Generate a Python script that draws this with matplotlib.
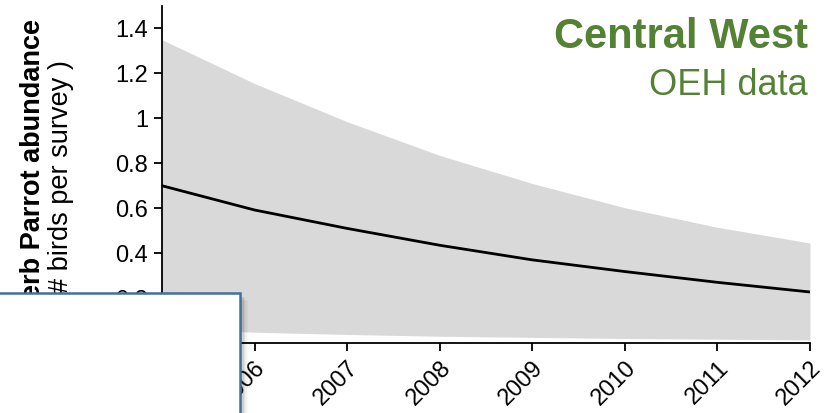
import matplotlib
matplotlib.use("Agg")
import matplotlib.pyplot as plt
from matplotlib.patches import Rectangle
import matplotlib.transforms as mtransforms

plt.rcParams['font.family'] = ['Liberation Sans', 'DejaVu Sans']

# values
years = [2005, 2006, 2007, 2008, 2009, 2010, 2011, 2012]
mean_abund = [0.70, 0.592, 0.510, 0.435, 0.370, 0.318, 0.270, 0.227]
upper_ci = [1.35, 1.155, 0.985, 0.835, 0.710, 0.602, 0.515, 0.445]
lower_ci = [0.065, 0.048, 0.038, 0.030, 0.025, 0.020, 0.017, 0.014]
yticks = [0, 0.2, 0.4, 0.6, 0.8, 1.0, 1.2, 1.4]

green = '#548235'

fig = plt.figure(figsize=(8.31, 4.13), dpi=100)
ax = fig.add_axes([0.1949, 0.1695, 0.7798, 0.816])

ax.fill_between(years, lower_ci, upper_ci, color='#d9d9d9', linewidth=0)
ax.plot(years, mean_abund, color='black', linewidth=2)

ax.set_xlim(2005, 2012)
ax.set_ylim(0, 1.5)
ax.set_yticks(yticks)
ax.set_yticklabels(['%g' % v for v in yticks], fontsize=17)
ax.set_xticks(years)
ax.set_xticklabels([str(y) for y in years], fontsize=17, rotation=45,
                   ha='right', va='top', rotation_mode='anchor')
offset = mtransforms.ScaledTranslation(14 / 100, 0, fig.dpi_scale_trans)
for lab in ax.get_xticklabels():
    lab.set_transform(lab.get_transform() + offset)

for s in ['top', 'right']:
    ax.spines[s].set_visible(False)
for s in ['left', 'bottom']:
    ax.spines[s].set_linewidth(1.3)
ax.tick_params(direction='out', length=6, width=1.3, pad=4)

# titles
fig.text(808 / 831, 1 - 48 / 413, 'Central West', color=green,
         fontsize=30, fontweight='bold', ha='right', va='baseline')
fig.text(808 / 831, 1 - 95 / 413, 'OEH data', color=green,
         fontsize=26, ha='right', va='baseline')

# y label (two lines, first bold)
fig.text(33 / 831, 1 - 184 / 413, 'Superb Parrot abundance', rotation=90,
         fontsize=19.5, fontweight='bold', ha='center', va='center')
fig.text(61 / 831, 1 - 181 / 413, '(# birds per survey )', rotation=90,
         fontsize=19.5, ha='center', va='center')

# overlapping white box with shadow
W, H = 831, 413
for i, a in enumerate([0.10, 0.08, 0.06, 0.04, 0.02]):
    d = 2 + i * 1.5
    fig.patches.append(Rectangle((-10 / W, -20 / H), (250 + d) / W,
                                 (H - 293 + 20 - d) / H,
                                 transform=fig.transFigure, facecolor='black',
                                 alpha=a, edgecolor='none', zorder=9))
fig.patches.append(Rectangle((-10 / W, -20 / H), 250 / W, (H - 293 + 20) / H,
                             transform=fig.transFigure, facecolor='white',
                             edgecolor='#41719c', linewidth=1.8, zorder=10))

fig.savefig('out.png', dpi=100)
